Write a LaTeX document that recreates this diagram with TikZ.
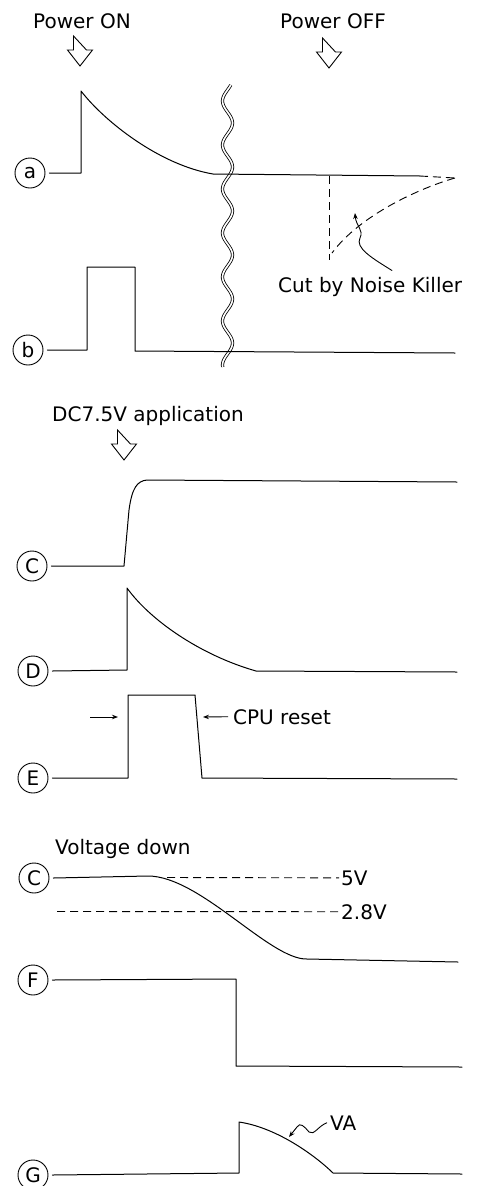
\documentclass[tikz,border=0pt]{standalone}
\usepackage{fontspec}
\setmainfont{DejaVu Sans}
\usetikzlibrary{arrows.meta}
\tikzset{
  sig/.style={line width=1pt, line join=round, line cap=round},
  dsh/.style={line width=0.9pt, dash pattern=on 8pt off 5pt},
  lbl/.style={inner sep=0pt, font=\fontsize{20}{24}\selectfont},
  circ/.style={circle, draw, line width=0.9pt, minimum size=30pt, inner sep=0pt, font=\fontsize{20}{24}\selectfont},
  tip/.style={-{Stealth[length=6pt,width=4.5pt]}},
  harrow/.pic={\draw[line width=0.9pt, line join=miter] (-6.5,0) -- (-6.5,14) -- (-12.5,14) -- (0,30) -- (12.5,14) -- (6.5,14) -- cycle;}
}
\begin{document}
\begin{tikzpicture}[x=1pt,y=-1pt]
\useasboundingbox (0,0) rectangle (482,1186);

% top labels and hollow arrows
\node[lbl, anchor=base] (pon) at (82,28) {Power ON};
\node[lbl, anchor=base] (poff) at (333,28) {Power OFF};
\pic (aon) at (80,36) {harrow};
\pic (aoff) at (329,38) {harrow};

% wavy break
\draw[line width=0.8pt, double, double distance=1.6pt] plot[domain=85:367, samples=160, smooth] ({227.5+5*sin(8.18*(\x-244))}, \x);

% signal a
\node[circ] (ca) at (30,173) {a};
\draw[sig] ([xshift=4pt]ca.east) -- (81,173) -- (81,91) .. controls (105,122) and (160,165) .. (213,174) -- (420,176);
\draw[dsh] (420,176) -- (455,178);
\draw[dsh] (329,176) -- (329,260);
\draw[dsh] (455,178) .. controls (420,188) and (360,215) .. (332,253);
\node[lbl, anchor=base west] (nk) at (278,292) {Cut by Noise Killer};
\draw[line width=0.9pt, tip] ([xshift=22pt,yshift=6pt]nk.north) .. controls (372,258) and (355,248) .. (360,238) .. controls (364,230) and (356,226) .. (355,213);

% signal b
\node[circ] (cb) at (28,350) {b};
\draw[sig] ([xshift=4pt]cb.east) -- (87,350) -- (87,267) -- (135,267) -- (135,351) -- (455,353);

% DC7.5V application
\node[lbl, anchor=base west] (dc) at (52,421) {DC7.5V application};
\pic (adc) at (124,430) {harrow};

% signal C
\node[circ] (cc1) at (32,566) {C};
\draw[sig] ([xshift=4pt]cc1.east) -- (124,566) -- (129,510) .. controls (132,488) and (137,481) .. (147,480) -- (457,482);

% signal D
\node[circ] (cd) at (33,671) {D};
\draw[sig] ([xshift=4pt]cd.east) -- (127,670) -- (127,588) .. controls (150,620) and (200,655) .. (256,671) -- (457,672);

% signal E
\node[circ] (ce) at (33,778) {E};
\draw[sig] ([xshift=4pt]ce.east) -- (128,778) -- (128,695) -- (195,695) -- (202,778) -- (457,779);
\coordinate (el) at (90,717);
\coordinate (er) at (118,717);
\draw[line width=0.9pt, tip] (el) -- (er);
\node[lbl, anchor=base west] (cpu) at (233,724) {CPU reset};
\coordinate (cr) at (203,717);
\draw[line width=0.9pt, tip] ([xshift=-5pt]cpu.west) -- (cr);

% Voltage down
\node[lbl, anchor=base west] (vd) at (55,854) {Voltage down};
\node[circ] (cc2) at (34,878) {C};
\draw[sig] ([xshift=4pt]cc2.east) -- (148,876) .. controls (200,876) and (270,960) .. (307,959) -- (458,962);
\node[lbl, anchor=base west] (v5) at (341,885) {5V};
\node[lbl, anchor=base west] (v28) at (341,919) {2.8V};
\coordinate (d5) at (167,877.5);
\coordinate (d28) at (57,911.5);
\draw[dsh] (d5) -- ([xshift=-2pt]v5.west);
\draw[dsh] (d28) -- ([xshift=-2pt]v28.west);

% signal F
\node[circ] (cf) at (33,980) {F};
\draw[sig] ([xshift=4pt]cf.east) -- (236,979) -- (236,1066) -- (462,1067);

% signal G
\node[circ] (cg) at (33,1175) {G};
\draw[sig] ([xshift=4pt]cg.east) -- (239,1173) -- (239,1122) .. controls (280,1128) and (320,1160) .. (333,1173) -- (462,1174);
\node[lbl, anchor=base west] (va) at (330,1130) {VA};
\draw[line width=0.9pt, tip] ([xshift=-3pt]va.west) .. controls (318,1126) and (314,1136) .. (309,1132) .. controls (304,1126) and (300,1122) .. (297,1127) -- (289,1137);
\end{tikzpicture}
\end{document}
